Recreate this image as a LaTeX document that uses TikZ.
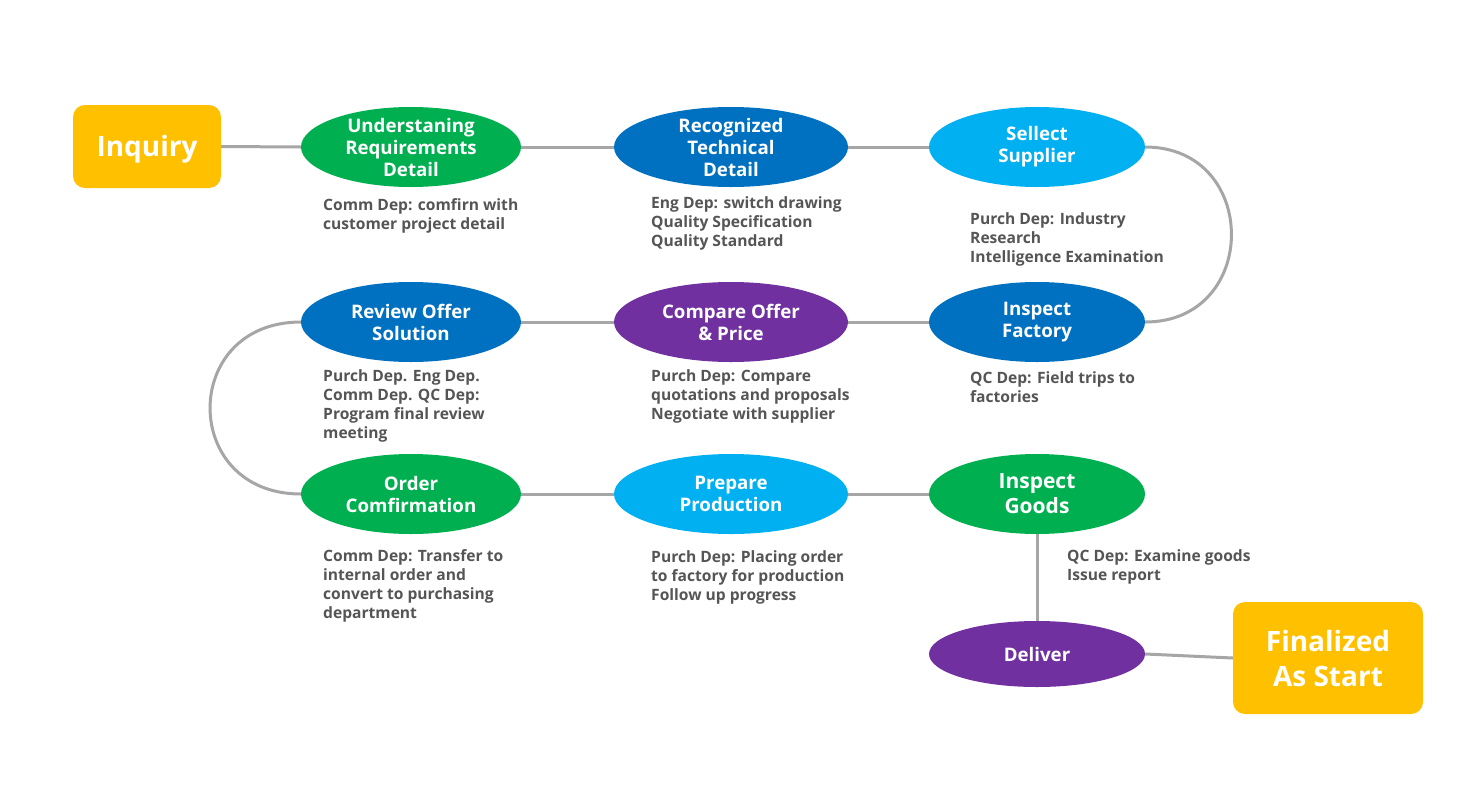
\documentclass[tikz,border=0pt]{standalone}
\usepackage{fontspec}
\setmainfont{Open Sans}
\usetikzlibrary{shapes.geometric}
\definecolor{cyel}{HTML}{FFC000}
\definecolor{cgrn}{HTML}{00B050}
\definecolor{cblu}{HTML}{0070C0}
\definecolor{clbl}{HTML}{00B0F0}
\definecolor{cpur}{HTML}{7030A0}
\definecolor{cline}{HTML}{A6A6A6}
\definecolor{ctxt}{HTML}{555555}
\tikzset{
  bigbox/.style={rectangle, rounded corners=12pt, fill=cyel, inner sep=0pt},
  oval/.style={ellipse, inner sep=0pt, minimum width=218pt, minimum height=80pt},
  title/.style={text=white, font=\bfseries\fontsize{18.7}{22}\selectfont, align=center, inner sep=0pt},
  bigtext/.style={text=white, font=\bfseries\fontsize{28}{35}\selectfont, align=center, inner sep=0pt},
  desc/.style={text=ctxt, font=\bfseries\fontsize{15.6}{19}\selectfont, align=left, inner sep=0pt, anchor=north west},
  link/.style={draw=cline, line width=3pt},
}
\begin{document}
\begin{tikzpicture}[x=1pt,y=-1pt]
\useasboundingbox[fill=white] (0,0) rectangle (1478,788);
% boxes
\node[bigbox, minimum width=148pt, minimum height=83pt] (inq) at (147,146.5) {};
\node[bigtext] (inqt) at (147,149.5) {Inquiry};
\node[bigbox, minimum width=190pt, minimum height=112pt] (fin) at (1328,658) {};
\node[bigtext] (fint) at (fin) {Finalized\\As Start};
% row 1
\node[oval, fill=cgrn, minimum width=220pt] (e1) at (411,147) {};
\node[oval, fill=cblu, minimum width=234pt] (e2) at (731,147) {};
\node[oval, fill=clbl, minimum width=216pt] (e3) at (1037,147) {};
% row 2
\node[oval, fill=cblu, minimum width=220pt] (e4) at (411,322) {};
\node[oval, fill=cpur, minimum width=234pt] (e5) at (731,322) {};
\node[oval, fill=cblu, minimum width=216pt] (e6) at (1037,322) {};
% row 3
\node[oval, fill=cgrn, minimum width=220pt] (e7) at (411,494) {};
\node[oval, fill=clbl, minimum width=234pt] (e8) at (731,494) {};
\node[oval, fill=cgrn, minimum width=216pt] (e9) at (1037,494) {};
\node[oval, fill=cpur, minimum width=216pt, minimum height=66pt] (e10) at (1037,654) {};
% titles
\node[title] (t1) at (e1) {Understaning\\Requirements\\Detail};
\node[title] (t2) at (e2) {Recognized\\Technical\\Detail};
\node[title] (t3) at (e3) {Sellect\\Supplier};
\node[title] (t4) at (e4) {Review Offer\\Solution};
\node[title] (t5) at (e5) {Compare Offer\\\& Price};
\node[title] (t6) at (e6) {Inspect\\Factory};
\node[title] (t7) at (e7) {Order\\Comfirmation};
\node[title] (t8) at (e8) {Prepare\\Production};
\node[title, font=\bfseries\fontsize{21}{25}\selectfont] (t9) at (e9) {Inspect\\Goods};
\node[title] (t10) at (e10) {Deliver};
% connectors
\draw[link] (inq.east) -- (e1.west);
\draw[link] (e1.east) -- (e2.west);
\draw[link] (e2.east) -- (e3.west);
\draw[link] (e3.east) .. controls +(115,0) and +(115,0) .. (e6.east);
\draw[link] (e6.west) -- (e5.east);
\draw[link] (e5.west) -- (e4.east);
\draw[link] (e4.west) .. controls +(-121,0) and +(-121,0) .. (e7.west);
\draw[link] (e7.east) -- (e8.west);
\draw[link] (e8.east) -- (e9.west);
\draw[link] (e9.south) -- (e10.north);
\draw[link] (e10.east) -- (fin.west);
% descriptions
\node[desc] (d1) at (323,198) {Comm Dep: comfirn with\\customer project detail};
\node[desc] (d2) at (651,196) {Eng Dep: switch drawing\\Quality Specification\\Quality Standard};
\node[desc] (d3) at (970,212) {Purch Dep: Industry\\Research\\Intelligence Examination};
\node[desc] (d4) at (323,369) {Purch Dep. Eng Dep.\\Comm Dep. QC Dep:\\Program final review\\meeting};
\node[desc] (d5) at (651,369) {Purch Dep: Compare\\quotations and proposals\\Negotiate with supplier};
\node[desc] (d6) at (970,371) {QC Dep: Field trips to\\factories};
\node[desc] (d7) at (323,549) {Comm Dep: Transfer to\\internal order and\\convert to purchasing\\department};
\node[desc] (d8) at (651,550) {Purch Dep: Placing order\\to factory for production\\Follow up progress};
\node[desc] (d9) at (1067,549) {QC Dep: Examine goods\\Issue report};
\end{tikzpicture}
\end{document}
